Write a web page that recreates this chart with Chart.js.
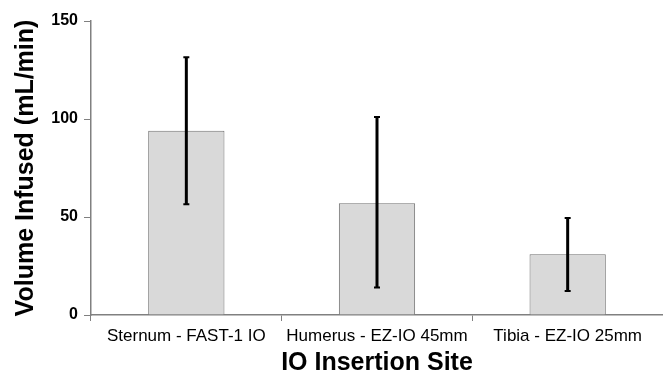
<!DOCTYPE html>
<html>
<head>
<meta charset="utf-8">
<script src="https://cdn.jsdelivr.net/npm/chart.js@4"></script>
<style>
  html, body { margin: 0; padding: 0; background: #fff; }
  #wrap { width: 663px; height: 375px; }
</style>
</head>
<body>
<div id="wrap"><canvas id="ioChart"></canvas></div>
<script>
// data
const sites = ['Sternum - FAST-1 IO', 'Humerus - EZ-IO 45mm', 'Tibia - EZ-IO 25mm'];
const meanVolume = [94, 57, 31];
const errLow = [56.5, 14, 12.2];
const errHigh = [131.5, 101, 49.5];
const yTicks = [0, 50, 100, 150];

// draws the error bars through the y scale
const errorBars = {
    id: 'errorBars',
    afterDatasetsDraw(chart) {
        const ctx = chart.ctx;
        const y = chart.scales.y;
        const meta = chart.getDatasetMeta(0);
        ctx.save();
        ctx.strokeStyle = '#000';
        meta.data.forEach((bar, i) => {
            const x = bar.x;
            const top = y.getPixelForValue(errHigh[i]);
            const bot = y.getPixelForValue(errLow[i]);
            ctx.lineWidth = 3;
            ctx.beginPath();
            ctx.moveTo(x, top);
            ctx.lineTo(x, bot);
            ctx.stroke();
            // small caps
            ctx.lineWidth = 2;
            ctx.beginPath();
            ctx.moveTo(x - 3, top); ctx.lineTo(x + 3, top);
            ctx.moveTo(x - 3, bot); ctx.lineTo(x + 3, bot);
            ctx.stroke();
        });
        ctx.restore();
    }
};

new Chart(document.getElementById('ioChart').getContext('2d'), {
    type: 'bar',
    data: {
        labels: sites,
        datasets: [{
            data: meanVolume,
            backgroundColor: '#d9d9d9',
            borderColor: '#707070',
            borderWidth: 1,
            barPercentage: 0.4,
            categoryPercentage: 1
        }]
    },
    options: {
        responsive: true,
        maintainAspectRatio: false,
        animation: false,
        layout: { padding: { top: 21, right: 0, left: 0, bottom: 0 } },
        plugins: { legend: { display: false }, tooltip: { enabled: false } },
        scales: {
            x: {
                offset: true,
                afterFit: s => { s.height = 60; },
                border: { color: '#808080', width: 1.5 },
                grid: { display: true, drawOnChartArea: false, tickLength: 6, color: '#808080', offset: true },
                ticks: { color: '#000', font: { family: 'Liberation Sans', size: 17 }, padding: 5, maxRotation: 0 },
                title: {
                    display: true,
                    text: 'IO Insertion Site',
                    color: '#000',
                    font: { family: 'Liberation Sans', size: 25, weight: 'bold' },
                    padding: { top: 0, bottom: -3 }
                }
            },
            y: {
                min: 0,
                max: 150,
                afterFit: s => { s.width = 91; },
                afterBuildTicks: s => { s.ticks = yTicks.map(v => ({ value: v })); },
                border: { color: '#808080', width: 1.5 },
                grid: { display: true, drawOnChartArea: false, tickLength: 7, color: '#808080' },
                ticks: { color: '#000', font: { family: 'Liberation Sans', size: 16, weight: 'bold' }, padding: 6 },
                title: {
                    display: true,
                    text: 'Volume Infused (mL/min)',
                    color: '#000',
                    font: { family: 'Liberation Sans', size: 25, weight: 'bold' },
                    padding: { top: 11, bottom: 0 }
                }
            }
        }
    },
    plugins: [errorBars]
});
</script>
</body>
</html>
